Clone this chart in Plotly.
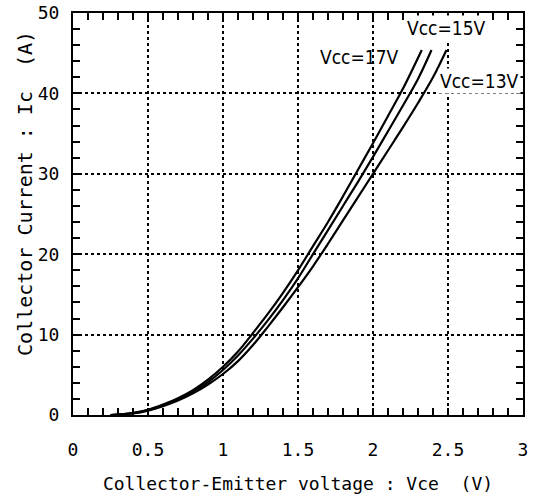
import plotly.graph_objects as go

vce_17 = [0.25, 0.3, 0.4, 0.5, 0.6, 0.7, 0.8, 0.9, 1.0, 1.1, 1.2, 1.3, 1.4, 1.5, 1.6, 1.7, 1.8, 1.9, 2.0, 2.1, 2.2, 2.325]
ic_17 = [0.0, 0.05, 0.25, 0.65, 1.3, 2.1, 3.1, 4.4, 6.0, 7.9, 10.2, 12.6, 15.2, 18.0, 21.0, 24.0, 27.2, 30.5, 33.8, 37.2, 40.6, 45.4]

vce_15 = [0.25, 0.3, 0.4, 0.5, 0.6, 0.7, 0.8, 0.9, 1.0, 1.1, 1.2, 1.3, 1.4, 1.5, 1.6, 1.7, 1.8, 1.9, 2.0, 2.1, 2.2, 2.3, 2.39]
ic_15 = [0.0, 0.05, 0.25, 0.6, 1.2, 2.0, 2.9, 4.1, 5.6, 7.4, 9.5, 11.8, 14.3, 17.0, 20.0, 23.0, 26.0, 29.0, 32.1, 35.3, 38.5, 41.8, 45.4]

vce_13 = [0.25, 0.3, 0.4, 0.5, 0.6, 0.7, 0.8, 0.9, 1.0, 1.1, 1.2, 1.3, 1.4, 1.5, 1.6, 1.7, 1.8, 1.9, 2.0, 2.1, 2.2, 2.3, 2.4, 2.49]
ic_13 = [0.0, 0.05, 0.2, 0.55, 1.1, 1.8, 2.7, 3.8, 5.1, 6.7, 8.7, 11.0, 13.4, 15.9, 18.5, 21.3, 24.2, 27.1, 30.0, 32.9, 35.8, 38.8, 42.0, 45.4]

series_labels = ["Vcc=17V", "Vcc=15V", "Vcc=13V"]
x_tickvals = [0, 0.5, 1, 1.5, 2, 2.5, 3]
x_ticktext = ["0", "0.5", "1", "1.5", "2", "2.5", "3"]
y_tickvals = [0, 10, 20, 30, 40, 50]

FONT = "DejaVu Sans Mono"

fig = go.Figure()
for xs, ys, name in [(vce_17, ic_17, series_labels[0]),
                     (vce_15, ic_15, series_labels[1]),
                     (vce_13, ic_13, series_labels[2])]:
    fig.add_trace(go.Scatter(x=xs, y=ys, mode="lines", name=name,
                             line=dict(color="black", width=2.2, shape="spline"),
                             showlegend=False))

axis_common = dict(
    showline=True, linecolor="black", linewidth=2, mirror="ticks",
    ticks="inside", ticklen=7, tickwidth=2, tickcolor="black",
    showgrid=True, gridcolor="black", gridwidth=1.5, griddash="3px,3px",
    zeroline=False, automargin=False, ticklabeloverflow="allow",
    tickfont=dict(family=FONT, size=18, color="black"),
)

fig.update_xaxes(range=[0, 3], tickvals=x_tickvals, ticktext=x_ticktext,
                 minor=dict(dtick=0.1, ticks="inside", ticklen=7, tickwidth=2,
                            tickcolor="black", showgrid=False),
                 title=dict(text="Collector-Emitter voltage : Vce  (V)",
                            font=dict(family=FONT, size=18, color="black"),
                            standoff=19),
                 ticklabelstandoff=17,
                 **axis_common)
fig.update_yaxes(range=[0, 50], tickvals=y_tickvals,
                 minor=dict(dtick=2, ticks="inside", ticklen=7, tickwidth=2,
                            tickcolor="black", showgrid=False),
                 ticklabelstandoff=8,
                 **axis_common)

fig.add_annotation(text="Collector Current : Ic  (A)", xref="paper", yref="paper",
                   x=-0.107, y=0.552, textangle=-90, showarrow=False,
                   xanchor="center", yanchor="middle",
                   font=dict(family=FONT, size=20, color="black"))

fig.add_annotation(text=series_labels[0], x=1.91, y=44.5, showarrow=False,
                   font=dict(family="DejaVu Sans Condensed", size=19, color="black"))
fig.add_annotation(text=series_labels[1], x=2.49, y=48.1, showarrow=False,
                   bgcolor="white",
                   font=dict(family="DejaVu Sans Condensed", size=19, color="black"))
fig.add_annotation(text=series_labels[2], x=2.71, y=41.6, showarrow=False,
                   bgcolor="white",
                   font=dict(family="DejaVu Sans Condensed", size=19, color="black"))

fig.update_layout(width=537, height=498,
                  margin=dict(l=73, r=14, t=13, b=83, autoexpand=False),
                  plot_bgcolor="white", paper_bgcolor="white")

# remove the page's default 8px body margin so the figure fills the window exactly
fig.write_html("out.html", config={"displayModeBar": False},
               post_script="document.body.style.margin='0px';")
